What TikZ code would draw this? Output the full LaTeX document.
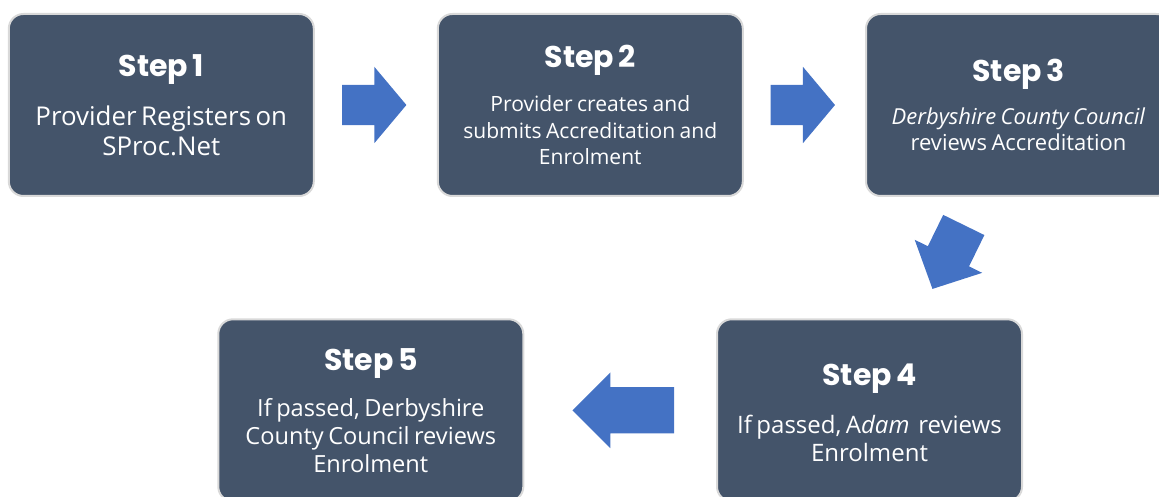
\documentclass[tikz,border=0pt]{standalone}
\usepackage{fontspec}
\setmainfont{Open Sans}
\newfontfamily\titlefam{Poppins}
\usetikzlibrary{shapes.arrows,calc}

\definecolor{cardfill}{HTML}{44546A}
\definecolor{cardrim}{HTML}{D9D9D9}
\definecolor{arrowblue}{HTML}{4472C4}

\tikzset{
  stepcard/.style = {draw=cardrim, line width=1.5pt, fill=cardfill, rounded corners=11pt,
    minimum width=228.75pt, minimum height=136.5pt, text width=222pt, align=center,
    text=white, inner sep=0pt},
  blockarrow/.style = {single arrow, fill=arrowblue, draw=none, inner xsep=0pt,
    single arrow head indent=0pt}
}
\newcommand{\steptitle}[1]{{\titlefam\bfseries\fontsize{22.5}{26}\selectfont #1\par}}

\begin{document}
\begin{tikzpicture}[x = 0.75pt, y = 0.75pt]
\useasboundingbox (0,0) rectangle (1159,496);

\node[stepcard] (s1) at (161.3,391) {\steptitle{Step 1}\vspace{14pt}%
    \fontsize{19.4}{22.5}\selectfont Provider Registers on\\SProc.Net\par};
\node[stepcard] (s2) at (590.3,391) {\steptitle{Step 2}\vspace{13.5pt}%
    \fontsize{15.8}{19.9}\selectfont Provider creates and\\submits Accreditation and\\Enrolment\par};
\node[stepcard] (s3) at (1018.5,391) {\steptitle{Step 3}\vspace{12.5pt}%
    \fontsize{16.5}{19.5}\selectfont \textit{Derbyshire County Council}\\reviews Accreditation\par};
\node[stepcard] (s4) at (869.5,85.7) {\steptitle{Step 4}\vspace{15pt}%
    \fontsize{18}{21}\selectfont If passed, A\textit{dam}\ \ reviews\\Enrolment\par\vspace{-4.5pt}};
\node[stepcard] (s5) at (370.8,85.7) {\steptitle{Step 5}\vspace{13.5pt}%
    \fontsize{17.7}{21}\selectfont If passed, Derbyshire\\County Council reviews\\Enrolment\par};

% block arrows between the cards
\node[blockarrow, minimum height=48.2pt, minimum width=56.8pt, inner ysep=14.9pt,
    single arrow head extend=13.5pt, single arrow tip angle=100, xshift=-7.5pt]
    (a12) at ($(s1.east)!0.5!(s2.west)$) {};
\node[blockarrow, minimum height=48.2pt, minimum width=56.8pt, inner ysep=14.9pt,
    single arrow head extend=13.5pt, single arrow tip angle=100, xshift=-7.5pt]
    (a23) at ($(s2.east)!0.5!(s3.west)$) {};
\node[blockarrow, minimum height=53.4pt, minimum width=56pt, inner ysep=17pt,
    single arrow head extend=11pt, single arrow tip angle=92, rotate=243.9]
    (a34) at (953,249) {};
\node[blockarrow, minimum height=76.2pt, minimum width=56.25pt, inner ysep=17.15pt,
    single arrow head extend=11pt, single arrow tip angle=90, rotate=180, xshift=-11pt]
    (a45) at ($(s4.west)!0.5!(s5.east)$) {};

\end{tikzpicture}
\end{document}
